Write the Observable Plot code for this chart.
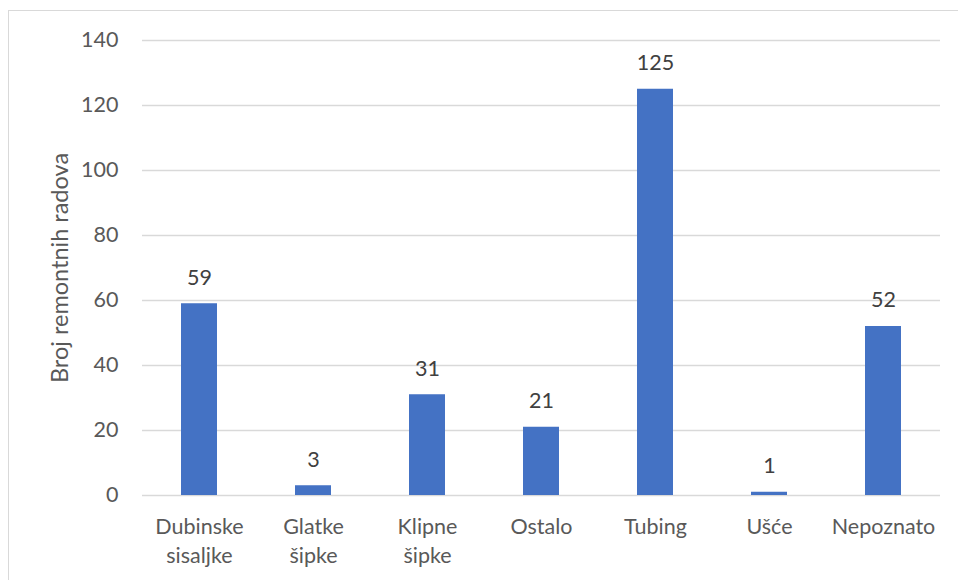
<!DOCTYPE html>
<html>
<head>
<meta charset="utf-8">
<script src="https://cdn.jsdelivr.net/npm/d3@7"></script>
<script src="https://cdn.jsdelivr.net/npm/@observablehq/plot@0.6"></script>
<style>
  html, body { margin: 0; padding: 0; background: #fff; }
  #wrap { position: relative; width: 958px; height: 580px; overflow: hidden; }
  #border { position: absolute; left: 8px; top: 10px; width: 960px; height: 600px; border: 1px solid #d9d9d9; box-sizing: border-box; pointer-events: none; }
  #chart { position: absolute; left: 0; top: 0; }
</style>
</head>
<body>
<div id="wrap"><div id="chart"></div><div id="border"></div></div>
<script>
const categories = ["Dubinske\nsisaljke", "Glatke\nšipke", "Klipne\nšipke", "Ostalo", "Tubing", "Ušće", "Nepoznato"];
const values = [59, 3, 31, 21, 125, 1, 52];
const yTicks = [0, 20, 40, 60, 80, 100, 120, 140];
const yLabel = "Broj remontnih radova";

const data = categories.map((c, i) => ({cat: c, val: values[i]}));
const font = "Lato, 'Open Sans', sans-serif";
const fs = 21.5;

const chart = Plot.plot({
  width: 958,
  height: 580,
  marginLeft: 142,
  marginRight: 18,
  marginTop: 40,
  marginBottom: 85,
  style: {fontFamily: font, fontSize: fs + "px", color: "#595959", background: "transparent"},
  x: {domain: categories, paddingInner: 0.684, paddingOuter: 0.342, label: null},
  y: {domain: [0, 140], label: null},
  marks: [
    Plot.gridY(yTicks, {stroke: "#d9d9d9", strokeOpacity: 1, strokeWidth: 1.5}),
    Plot.axisY(yTicks, {tickSize: 0, tickPadding: 24, label: null, fill: "#595959", fontSize: fs}),
    Plot.text([yLabel], {frameAnchor: "left", dx: -82, rotate: -90, textAnchor: "middle", fill: "#595959", fontSize: 23.5}),
    Plot.barY(data, {x: "cat", y: "val", fill: "#4472c4"}),
    Plot.text(data, {x: "cat", y: "val", text: d => String(d.val), dy: -26, fill: "#404040", fontSize: fs}),
    Plot.axisX({tickSize: 0, tickPadding: 18, label: null, fill: "#595959", fontSize: fs, lineHeight: 1.35})
  ]
});
document.getElementById("chart").appendChild(chart);
</script>
</body>
</html>
